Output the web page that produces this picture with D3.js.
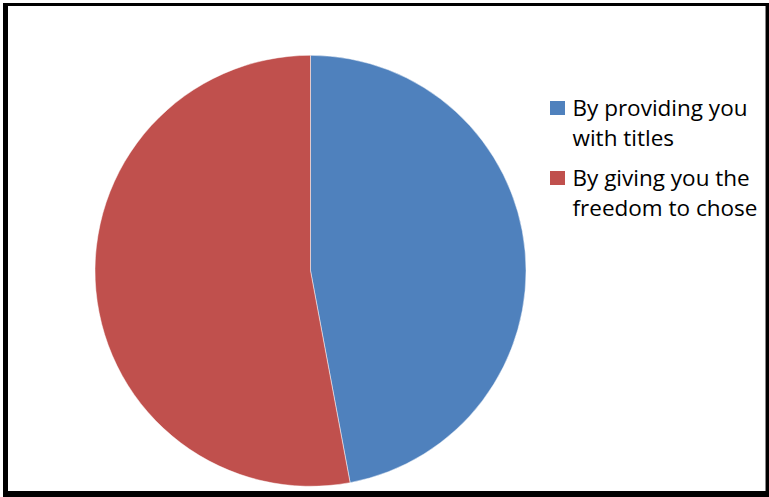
<!DOCTYPE html>
<html>
<head>
<meta charset="utf-8">
<script src="https://cdn.jsdelivr.net/npm/d3@7"></script>
<style>
  html, body { margin: 0; padding: 0; background: #fff; }
  svg { display: block; }
</style>
</head>
<body>
<svg id="chart" width="769" height="497"></svg>
<script>
// Survey answers: how the respondent prefers to be given topics
const categories = ["By providing you with titles", "By giving you the freedom to chose"];
const legendLines = [["By providing you", "with titles"], ["By giving you the", "freedom to chose"]];
const values = [8, 9];
const colors = ["#4F81BD", "#C0504D"];

const svg = d3.select("#chart");

// Chart frame
svg.append("rect").attr("x", 3).attr("y", 3).attr("width", 766).attr("height", 494).attr("fill", "#000");
svg.append("rect").attr("x", 8).attr("y", 6).attr("width", 757).attr("height", 485).attr("fill", "#fff");
svg.append("line").attr("x1", 765.5).attr("x2", 765.5).attr("y1", 6).attr("y2", 491)
  .attr("stroke", "#888").attr("stroke-width", 1);

// Pie
const cx = 310.5, cy = 270.8, r = 215.5;
const pie = d3.pie().sort(null).value(d => d)(values);
const arc = d3.arc().innerRadius(0).outerRadius(r);

svg.append("g").attr("transform", `translate(${cx},${cy})`)
  .selectAll("path").data(pie).join("path")
  .attr("d", arc)
  .attr("fill", (d, i) => colors[i])
  .attr("stroke", "#fff").attr("stroke-width", 0.8).attr("stroke-opacity", 0.6);

// Legend
const legend = svg.append("g").attr("font-family", "'Open Sans', 'Noto Sans', sans-serif")
  .attr("font-size", 22.5).attr("fill", "#000");
const lineH = 30;
const itemH = 70;
categories.forEach((c, i) => {
  const y0 = 116 + i * itemH;
  legend.append("rect").attr("x", 550).attr("y", y0 - 15).attr("width", 15).attr("height", 14)
    .attr("fill", colors[i]);
  legendLines[i].forEach((t, j) => {
    legend.append("text").attr("x", 572.5).attr("y", y0 + j * lineH).text(t);
  });
});
</script>
</body>
</html>
